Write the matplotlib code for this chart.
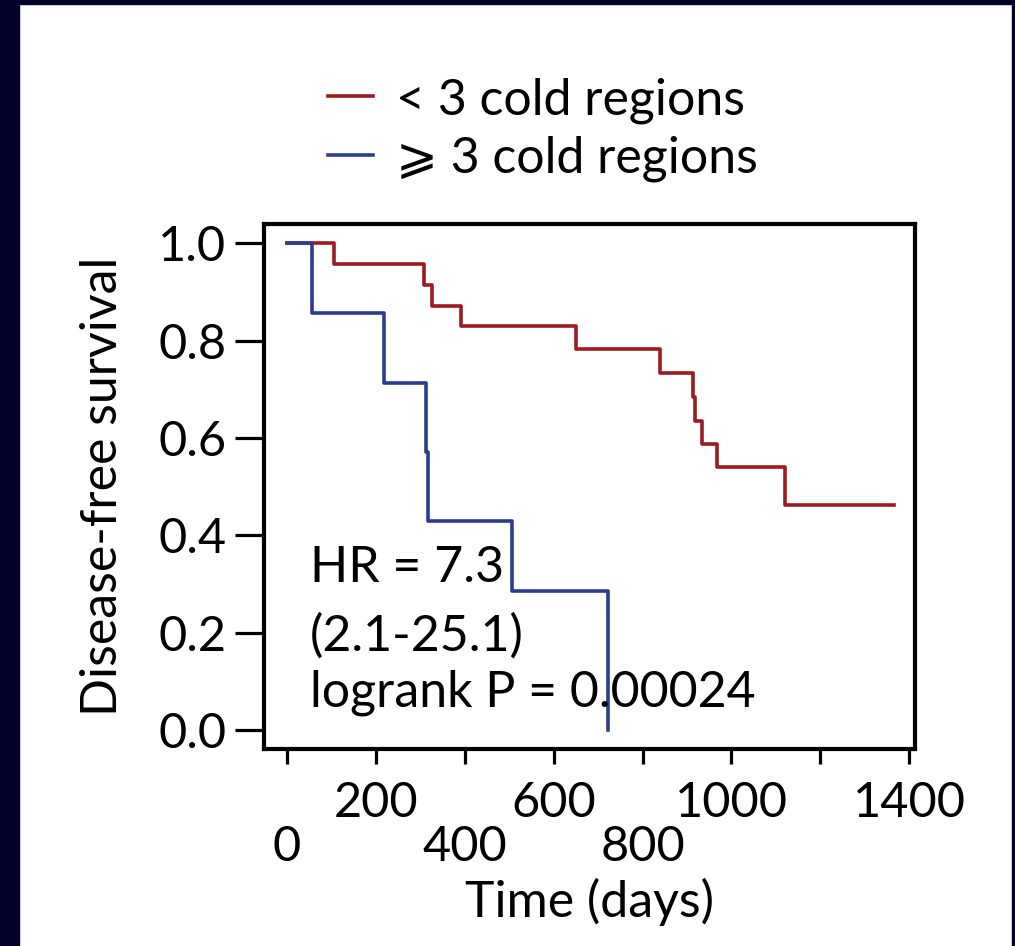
import matplotlib
matplotlib.use("Agg")
import matplotlib.pyplot as plt
from matplotlib.patches import Rectangle

# ---- data ----
red_label = "< 3 cold regions"
blue_label = "\u2a7e 3 cold regions"
red_times = [0, 106, 307, 325, 392, 650, 839, 913, 917, 934, 967, 1120, 1365]
red_surv = [1.0, 0.958, 0.915, 0.872, 0.830, 0.783, 0.734, 0.685, 0.636, 0.588, 0.540, 0.463, 0.463]
blue_times = [0, 55, 217, 312, 316, 506, 723]
blue_surv = [1.0, 0.857, 0.714, 0.571, 0.429, 0.286, 0.0]
xticks = [0, 200, 400, 600, 800, 1000, 1200, 1400]
xtick_labels = ["0", "200", "400", "600", "800", "1000", "", "1400"]
yticks = [0.0, 0.2, 0.4, 0.6, 0.8, 1.0]
ytick_labels = ["0.0", "0.2", "0.4", "0.6", "0.8", "1.0"]
annot_lines = ["HR = 7.3", "(2.1-25.1)", "logrank P = 0.00024"]

RED = "#9E1A1E"
BLUE = "#2A3D8F"
NAVY = "#03022A"
FONT = ["Lato", "DejaVu Sans"]
FS = 36
TFS = 35

plt.rcParams["font.family"] = FONT

W, H = 1015, 946
fig = plt.figure(figsize=(W / 100, H / 100), dpi=100)
fig.patch.set_facecolor("white")

# navy frame
fig.patches.append(Rectangle((0, 0), 19 / W, 1, transform=fig.transFigure, color=NAVY, zorder=0))
fig.patches.append(Rectangle((0, 1 - 4 / H), 1, 4 / H, transform=fig.transFigure, color=NAVY, zorder=0))
fig.patches.append(Rectangle((1 - 3 / W, 0), 3 / W, 1, transform=fig.transFigure, color=NAVY, zorder=0))

ax = fig.add_axes([264 / W, 1 - 749 / H, (915 - 264) / W, (749 - 224) / H])
ax.set_xlim(-52, 1413)
ax.set_ylim(-0.039, 1.040)

l1, = ax.plot(red_times, red_surv, drawstyle="steps-post", color=RED, lw=2.6, label=red_label)
l2, = ax.plot(blue_times, blue_surv, drawstyle="steps-post", color=BLUE, lw=2.6, label=blue_label)

for s in ax.spines.values():
    s.set_linewidth(3)
    s.set_color("black")

ax.set_yticks(yticks)
ax.set_yticklabels(ytick_labels, fontsize=TFS)
ax.tick_params(axis="y", length=21, width=2.3, pad=6)
ax.set_xticks(xticks)
ax.set_xticklabels(xtick_labels, fontsize=TFS)
ax.tick_params(axis="x", length=11, width=2.3)
for i, t in enumerate(ax.xaxis.get_major_ticks()):
    t.set_pad(12 if i % 2 == 1 else 44)

ax.set_xlabel("Time (days)", fontsize=FS, labelpad=6)
ax.set_ylabel("Disease-free survival", fontsize=FS, labelpad=23)

ann_y = [0.304, 0.164, 0.049]
for txt, yy in zip(annot_lines, ann_y):
    ax.text(52, yy, txt, fontsize=FS, va="baseline", ha="left")

fig.legend(handles=[l1, l2], loc="upper left", bbox_to_anchor=(328 / W, 1 - 77 / H),
           frameon=False, fontsize=FS, handlelength=0.9, handletextpad=0.45,
           labelspacing=0.24, borderaxespad=0, borderpad=0)

fig.savefig("out.png", dpi=100, facecolor="white")
